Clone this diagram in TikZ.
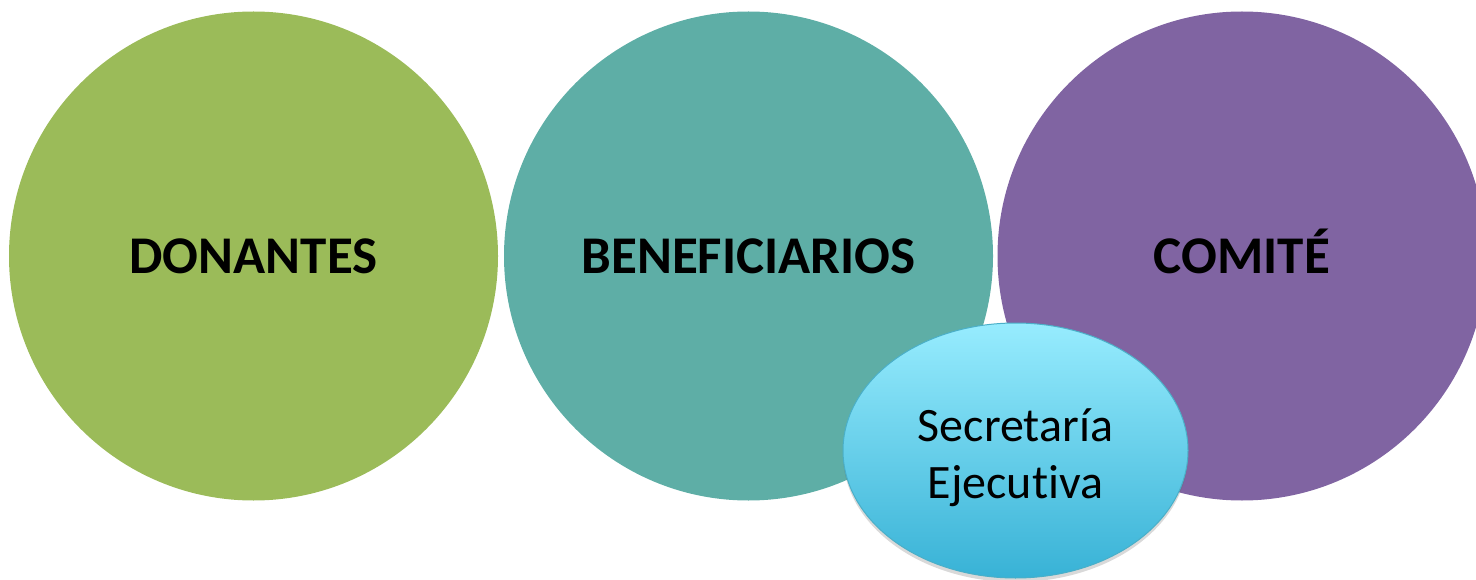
\documentclass[tikz,border=0pt]{standalone}
\usepackage{fontspec}
\setmainfont{Carlito}[Ligatures={NoCommon}]
\usetikzlibrary{shadows,shapes.geometric}
\definecolor{cgreen}{HTML}{9BBB59}
\definecolor{cteal}{HTML}{5EAEA6}
\definecolor{cpurple}{HTML}{8064A2}
\definecolor{ctop}{HTML}{97ECFE}
\definecolor{cbot}{HTML}{38B2D6}
\definecolor{cedge}{HTML}{4AAFC8}
\begin{document}
\begin{tikzpicture}[x=1pt,y=1pt,
  bigcircle/.style={circle, minimum size=489pt, inner sep=0pt},
  biglabel/.style={anchor=base, inner sep=0pt, font=\fontsize{53}{60}\selectfont\bfseries},
  secnode/.style={ellipse, minimum width=345pt, minimum height=255pt, inner sep=0pt,
    top color=ctop, bottom color=cbot, draw=cedge, line width=1pt,
    drop shadow={shadow xshift=0pt, shadow yshift=-4pt, opacity=0.25, fill=black!60}},
  seclabel/.style={align=center, inner sep=0pt, font=\fontsize{48}{57}\selectfont}]
\useasboundingbox (0,0) rectangle (1476,-580);
\begin{scope}
\clip (0,0) rectangle (1476,-580);
\node[bigcircle, fill=cgreen] (don) at (253.5,-256) {};
\node[bigcircle, fill=cteal] (ben) at (748.5,-256) {};
\node[bigcircle, fill=cpurple] (com) at (1242,-256) {};
\node[biglabel] (donl) at ([yshift=-17pt]don.center) {DONANTES};
\node[biglabel] (benl) at ([yshift=-17pt]ben.center) {BENEFICIARIOS};
\node[biglabel] (coml) at ([yshift=-17pt]com.center) {COMITÉ};
\node[secnode] (sec) at (1015.5,-450.5) {};
\node[seclabel] (secl) at ([yshift=-7pt]sec.center) {Secretaría\\Ejecutiva};
\end{scope}
\end{tikzpicture}
\end{document}
